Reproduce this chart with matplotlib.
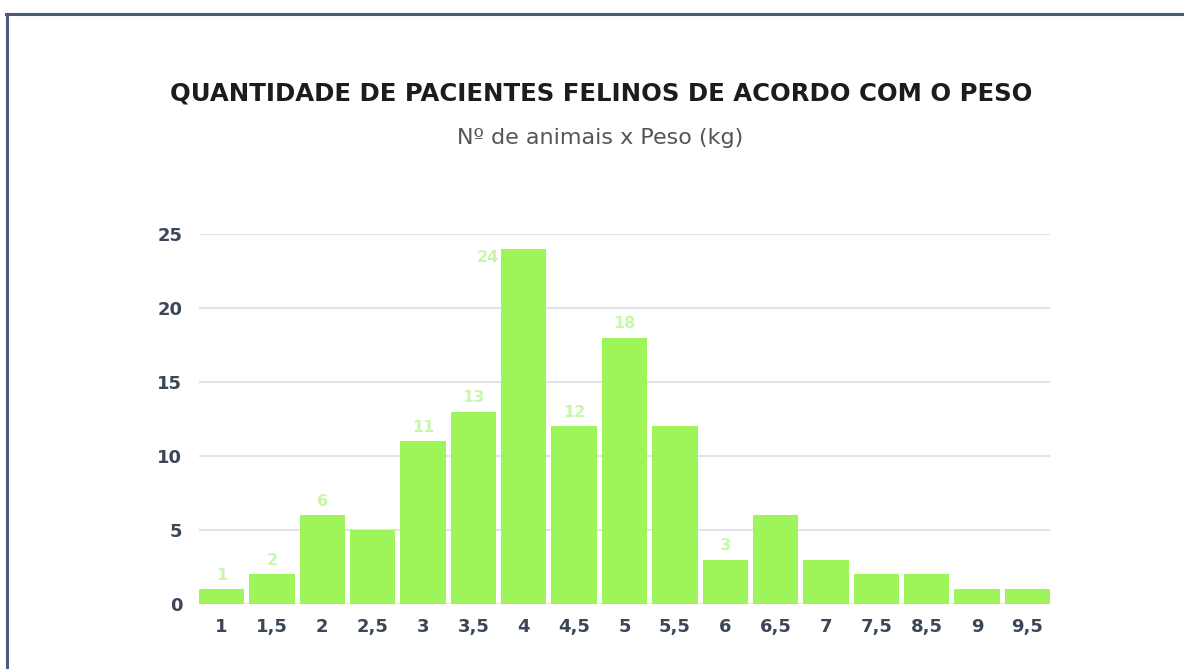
import matplotlib.pyplot as plt
from matplotlib.lines import Line2D

pesos = ['1', '1,5', '2', '2,5', '3', '3,5', '4', '4,5', '5', '5,5',
         '6', '6,5', '7', '7,5', '8,5', '9', '9,5']
pacientes = [1, 2, 6, 5, 11, 13, 24, 12, 18, 12, 3, 6, 3, 2, 2, 1, 1]
# rótulos que aparecem no gráfico original (None = sem rótulo)
rotulos = ['1', '2', '6', None, '11', '13', '24', '12', '18', None,
           '3', None, None, None, None, None, None]
yticks = [0, 5, 10, 15, 20, 25]

plt.rcParams['font.family'] = ['DejaVu Sans']

verde = '#9df55a'
verde_claro = '#c9f7a9'
cinza_escuro = '#3b4757'

fig = plt.figure(figsize=(11.84, 6.69), dpi=100)
fig.patch.set_facecolor('white')

# moldura (topo e esquerda)
fig.add_artist(Line2D([6 / 1184, 1], [1 - 14 / 669] * 2, color='#4c5b78', lw=2.2))
fig.add_artist(Line2D([7 / 1184] * 2, [0, 1 - 14 / 669], color='#4c5b78', lw=2.2))

ax = fig.add_axes([199 / 1184, 1 - 604 / 669, 851 / 1184, 370 / 669])
w = 0.9
x = range(len(pesos))
ax.bar(x, pacientes, width=w, color=verde, zorder=2)

for i, (v, r) in enumerate(zip(pacientes, rotulos)):
    if r is None:
        continue
    if v == max(pacientes):
        ax.text(i - w / 2 - 0.05, v - 0.1, r, ha='right', va='top',
                color=verde_claro, fontsize=11.5, fontweight='bold')
    else:
        ax.text(i, v + 0.45, r, ha='center', va='bottom',
                color=verde_claro, fontsize=11.5, fontweight='bold')

ax.set_xlim(-w / 2, len(pesos) - 1 + w / 2)
ax.set_ylim(0, 25)
ax.set_xticks(list(x))
ax.set_xticklabels(pesos)
ax.set_yticks(yticks)
ax.grid(axis='y', color='#e2e4e8', lw=1.5, zorder=0)
ax.set_axisbelow(True)
for s in ax.spines.values():
    s.set_visible(False)
ax.tick_params(axis='both', length=0, colors=cinza_escuro, labelsize=13)
ax.tick_params(axis='y', pad=12)
ax.tick_params(axis='x', pad=10)
for lab in ax.get_xticklabels() + ax.get_yticklabels():
    lab.set_fontweight('bold')

fig.text(601 / 1184, 1 - 94 / 669, 'QUANTIDADE DE PACIENTES FELINOS DE ACORDO COM O PESO',
         ha='center', va='center', fontsize=17.6, fontweight='bold', color='#1c1c1c')
fig.text(600 / 1184, 1 - 138 / 669, 'Nº de animais x Peso (kg)',
         ha='center', va='center', fontsize=16, color='#555555')

fig.savefig('out.png', dpi=100)
